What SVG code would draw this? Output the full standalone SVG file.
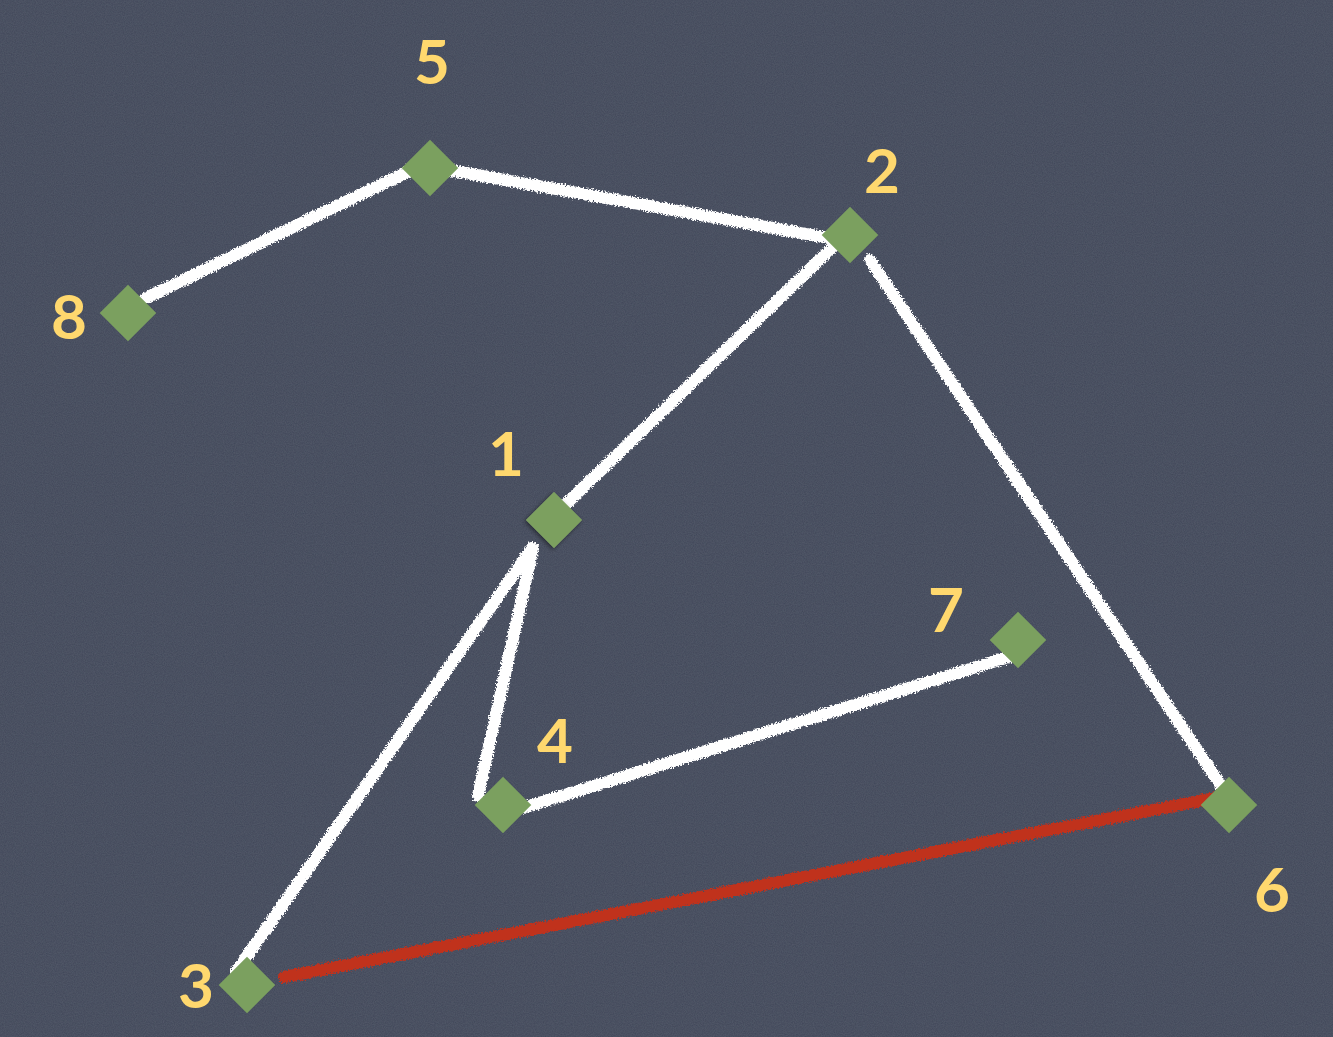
<svg xmlns="http://www.w3.org/2000/svg" width="1333" height="1037" viewBox="0 0 1333 1037">
<defs>
<filter id="bgnoise" x="0" y="0" width="100%" height="100%">
<feTurbulence type="fractalNoise" baseFrequency="0.9" numOctaves="2" seed="3" result="n"/>
<feColorMatrix in="n" type="matrix" values="0 0 0 0 0.36  0 0 0 0 0.39  0 0 0 0 0.47  0 0 0 0.12 0" result="c"/>
<feComposite in="c" in2="SourceGraphic" operator="over"/>
</filter>
<filter id="chalk" x="-5%" y="-5%" width="110%" height="110%">
<feTurbulence type="fractalNoise" baseFrequency="0.6" numOctaves="2" seed="7" result="t"/>
<feDisplacementMap in="SourceGraphic" in2="t" scale="6" xChannelSelector="R" yChannelSelector="G"/>
</filter>
<filter id="shadow" x="-30%" y="-30%" width="160%" height="160%">
<feDropShadow dx="0" dy="2" stdDeviation="2" flood-color="#000" flood-opacity="0.45"/>
</filter>
<style>
.edge{stroke:#ffffff;stroke-width:12;stroke-linecap:round;fill:none}
.red{stroke:#c0301e;stroke-width:12;stroke-linecap:round;fill:none}
.node{fill:#7ba05f}
.lbl{font-family:"Lato","Noto Sans",sans-serif;font-weight:bold;font-size:62px;fill:#ffd86e;text-anchor:middle}
</style>
</defs>
<rect width="1333" height="1037" fill="#3f4658" filter="url(#bgnoise)"/>
<g id="connectors" filter="url(#chalk)">
<line class="edge" x1="146" y1="298" x2="420" y2="166"/>
<line class="edge" x1="438" y1="168" x2="840" y2="240"/>
<line class="edge" x1="836" y1="244" x2="566" y2="504"/>
<line class="edge" x1="870" y1="260" x2="1224" y2="790"/>
<line class="edge" x1="532" y1="548" x2="236" y2="972"/>
<line class="edge" x1="533" y1="548" x2="478" y2="796"/>
<line class="edge" x1="500" y1="815" x2="1012" y2="656"/>
<line class="red" x1="284" y1="977" x2="1226" y2="796"/>
</g>
<g id="node1"><rect class="node" x="534" y="500" width="40" height="40" transform="rotate(45 554 520)" filter="url(#shadow)"/><text class="lbl" x="506" y="476">1</text></g>
<g id="node2"><rect class="node" x="830" y="215" width="40" height="40" transform="rotate(45 850 235)"/><text class="lbl" x="882" y="193">2</text></g>
<g id="node3"><rect class="node" x="227" y="965" width="40" height="40" transform="rotate(45 247 985)"/><text class="lbl" x="196" y="1008">3</text></g>
<g id="node4"><rect class="node" x="483" y="785" width="40" height="40" transform="rotate(45 503 805)"/><text class="lbl" x="555" y="763">4</text></g>
<g id="node5"><rect class="node" x="410" y="148" width="40" height="40" transform="rotate(45 430 168)"/><text class="lbl" x="432" y="84">5</text></g>
<g id="node6"><rect class="node" x="1209" y="785" width="40" height="40" transform="rotate(45 1229 805)"/><text class="lbl" x="1272" y="912">6</text></g>
<g id="node7"><rect class="node" x="998" y="620" width="40" height="40" transform="rotate(45 1018 640)"/><text class="lbl" x="946" y="632">7</text></g>
<g id="node8"><rect class="node" x="108" y="293" width="40" height="40" transform="rotate(45 128 313)"/><text class="lbl" x="69" y="339">8</text></g>
</svg>
